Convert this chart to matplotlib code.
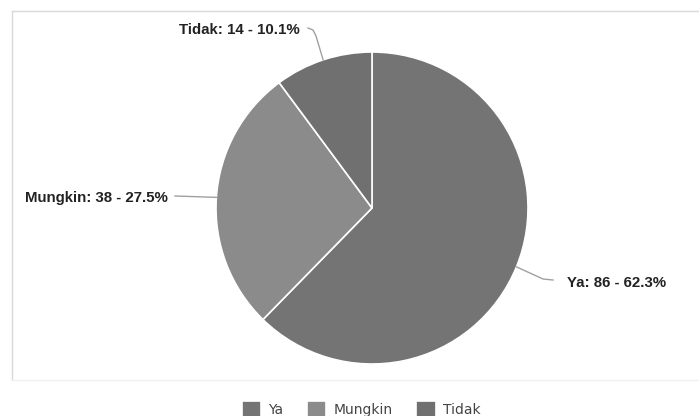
import numpy as np
import matplotlib.pyplot as plt

# data
labels = ["Ya", "Mungkin", "Tidak"]
counts = [86, 38, 14]
colors = ["#747474", "#8b8b8b", "#707070"]

W, H = 699, 416
fig = plt.figure(figsize=(W / 100, H / 100), dpi=100)
ax = fig.add_axes([0, 0, 1, 1])

cx, cy, r = 372, 208, 156
wedges, _ = ax.pie(counts, colors=colors, startangle=270, counterclock=True,
                   center=(cx, cy), radius=r,
                   wedgeprops=dict(edgecolor="white", linewidth=1.2))
ax.set_xlim(0, W)
ax.set_ylim(H, 0)
ax.axis("off")

# chart frame
ax.plot([12, W], [11, 11], color="#d9d9d9", lw=1)
ax.plot([12, 12], [11, 380], color="#d9d9d9", lw=1)
ax.plot([12, W], [380, 380], color="#f0f0f0", lw=1)

total = sum(counts)
# label positions (pixels): text xy, alignment, leader line points after anchor
layout = {
    "Ya": ((567, 283), "left", [(543, 279), (553, 280)]),
    "Mungkin": ((168, 198), "right", [(175, 196)]),
    "Tidak": ((300, 30), "right", [(316, 36), (313, 30), (308, 28)]),
}
for w, lab, c in zip(wedges, labels, counts):
    mid = np.deg2rad((w.theta1 + w.theta2) / 2)
    ax0 = cx + r * np.cos(mid)
    ay0 = cy + r * np.sin(mid)
    (tx, ty), ha, pts = layout[lab]
    xs = [ax0] + [p[0] for p in pts]
    ys = [ay0] + [p[1] for p in pts]
    ax.plot(xs, ys, color="#a0a0a0", lw=1)
    pct = 100 * c / total
    ax.text(tx, ty, f"{lab}: {c} - {pct:.1f}%", ha=ha, va="center",
            fontsize=10.8, fontweight="bold", family="Liberation Sans", color="#222222")

fig.legend(wedges, labels, loc="center", bbox_to_anchor=(361 / W, 1 - 409 / H),
           ncol=3, frameon=False, fontsize=10, handlelength=1.4, handleheight=1.3,
           handletextpad=0.5, columnspacing=1.7, labelcolor="#444444")

fig.savefig("out.png", dpi=100)
